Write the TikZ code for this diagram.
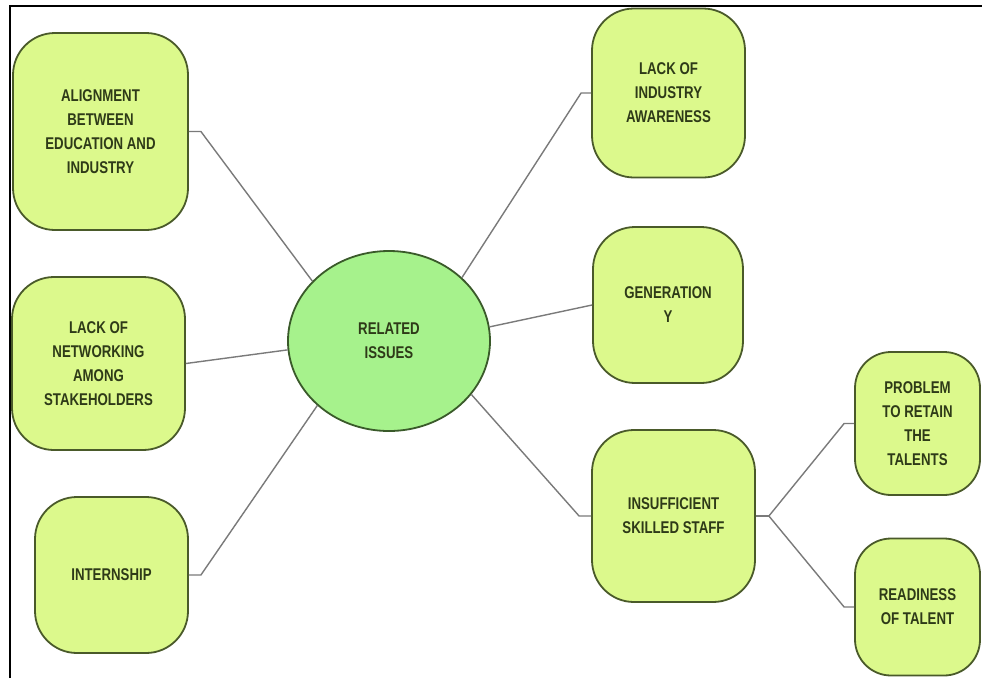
\documentclass[tikz,border=0pt]{standalone}
\usepackage{fontspec}
\setmainfont[FakeStretch=0.78]{Liberation Sans}
\usetikzlibrary{shapes.geometric}
\definecolor{boxfill}{HTML}{DCF98C}
\definecolor{boxline}{HTML}{4A5A2A}
\definecolor{ellfill}{HTML}{A6F28C}
\definecolor{ellline}{HTML}{3A5A2A}
\definecolor{txt}{HTML}{2E3A18}
\definecolor{conn}{HTML}{7A7A7A}
\tikzset{
  topic/.style={draw=boxline, fill=boxfill, line width=1.8pt, rounded corners=42pt,
    inner sep=0pt, align=center, text=txt, font=\fontsize{17}{24}\selectfont\bfseries},
  hub/.style={ellipse, draw=ellline, fill=ellfill, line width=1.8pt,
    inner sep=0pt, align=center, text=txt, font=\fontsize{17}{24}\selectfont\bfseries},
  link/.style={draw=conn, line width=1.4pt}
}
\begin{document}
\begin{tikzpicture}[x=1pt,y=-1pt]
\useasboundingbox (0,0) rectangle (982,678);
\fill[white] (0,0) rectangle (982,678);
\draw[line width=2pt, black] (10,678) -- (10,6) -- (982,6);

\node[hub, minimum width=202pt, minimum height=180pt] (R) at (389,341) {\raisebox{-4pt}{\parbox{100pt}{\centering RELATED\\ISSUES}}};

\node[topic, minimum width=175pt, minimum height=197pt] (A) at (100.5,131.5) {ALIGNMENT\\BETWEEN\\EDUCATION AND\\INDUSTRY};
\node[topic, minimum width=173pt, minimum height=173pt] (B) at (98.5,363.5) {LACK OF\\NETWORKING\\AMONG\\STAKEHOLDERS};
\node[topic, minimum width=153pt, minimum height=156pt] (C) at (111.5,575) {INTERNSHIP};

\node[topic, minimum width=153pt, minimum height=169pt] (D) at (668.5,93) {LACK OF\\INDUSTRY\\AWARENESS};
\node[topic, minimum width=150pt, minimum height=156pt] (E) at (668,305) {GENERATION\\Y};
\node[topic, minimum width=163pt, minimum height=172pt] (F) at (673.5,516) {INSUFFICIENT\\SKILLED STAFF};
\node[topic, rounded corners=36pt, minimum width=125pt, minimum height=143pt] (G) at (917.5,423.5) {PROBLEM\\TO RETAIN\\THE\\TALENTS};
\node[topic, rounded corners=36pt, minimum width=125pt, minimum height=137pt] (H) at (917.5,607) {READINESS\\OF TALENT};

\coordinate (fj) at ([xshift=13pt]F.east);
\draw[link] (A.east) -- ++(12,0) -- (R.142);
\draw[link] (B.east) -- (R.185);
\draw[link] (C.east) -- ++(12,0) -- (R.222);
\draw[link] (R.41) -- ([xshift=-10pt]D.west) -- (D.west);
\draw[link] (R.8) -- (E.west);
\draw[link] (R.-33) -- ([xshift=-12pt]F.west) -- (F.west);
\draw[link] (F.east) -- (fj);
\draw[link] (fj) -- ([xshift=-10pt]G.west) -- (G.west);
\draw[link] (fj) -- ([xshift=-10pt]H.west) -- (H.west);
\end{tikzpicture}
\end{document}
